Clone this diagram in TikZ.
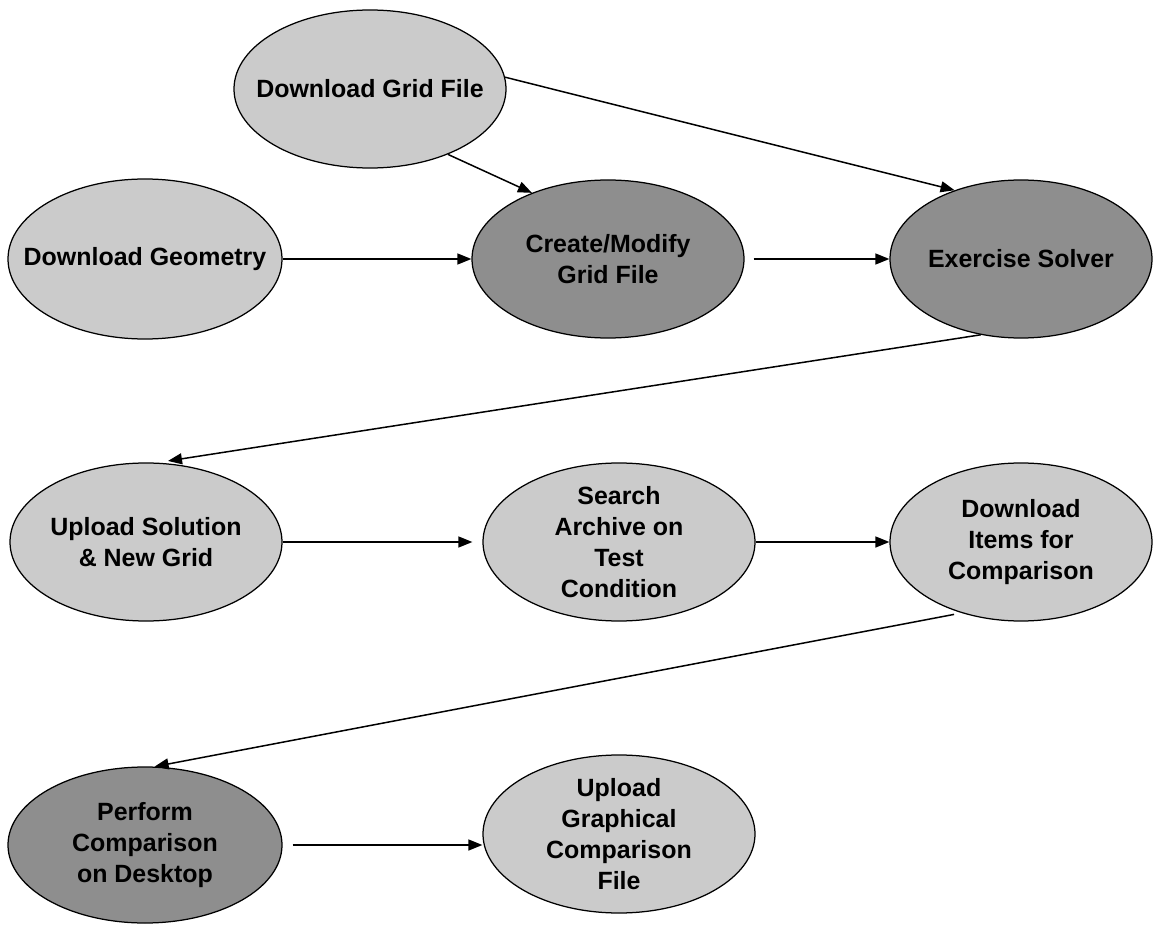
\documentclass[tikz,border=0pt]{standalone}
\usepackage{fontspec}
\setmainfont{Liberation Sans}
\usepackage{tikz}
\usetikzlibrary{arrows.meta, shapes.geometric, calc}
\definecolor{lightfill}{RGB}{203,203,203}
\definecolor{darkfill}{RGB}{142,142,142}
\tikzset{
    task/.style={ellipse, draw=black, line width=0.25mm, inner xsep=-8mm, inner ysep=-4mm,
        minimum width=54.4mm, minimum height=31.6mm, align=center,
        font=\fontsize{14.2}{17.6}\selectfont\bfseries},
    light/.style={task, fill=lightfill},
    dark/.style={task, fill=darkfill},
    arr/.style={-{Triangle[length=2.8mm,width=2.2mm]}, line width=0.3mm}
}

\begin{document}
\begin{tikzpicture}[x=0.2mm, y=-0.2mm]
\useasboundingbox (0,0) rectangle (1154,925);
% === ROW 1: grid preparation ===
\node[light] (dgf) at (370,89) {Download Grid File};
\node[light, minimum width=54.8mm, minimum height=32mm] (dgeo) at (145,259) {Download Geometry};
\node[dark] (cm) at (608,259) {Create/Modify\\Grid File};
\node[dark, minimum width=52.4mm] (es) at (1021,259) {Exercise Solver};
% === ROW 2: archive ===
\node[light] (usng) at (146,542) {Upload Solution\\\& New Grid};
\node[light] (satc) at (619,542) {Search\\Archive on\\Test\\Condition};
\node[light, minimum width=52.4mm] (dic) at (1021,542) {Download\\Items for\\Comparison};
% === ROW 3: comparison ===
\node[dark, minimum width=54.8mm, minimum height=31.2mm] (pcd) at (145,845) {Perform\\Comparison\\on Desktop};
\node[light] (ugcf) at (619,834) {Upload\\Graphical\\Comparison\\File};
% connectors
\draw[arr] (dgf.5) -- (es.134);
\draw[arr] (dgf.-40) -- (cm.139);
\draw[arr] (dgeo) -- (cm);
\draw[arr, shorten <=1.8mm] (cm) -- (es);
\draw[arr, shorten >=2.2mm] (es.-118) -- (usng.82);
\draw[arr, shorten >=2mm] (usng) -- (satc);
\draw[arr] (satc) -- (dic);
\draw[arr, shorten <=1.5mm] (dic.-130) -- (pcd.83);
\draw[arr, shorten <=2mm] (pcd.east) -- (pcd.east -| ugcf.west);
\end{tikzpicture}
\end{document}
